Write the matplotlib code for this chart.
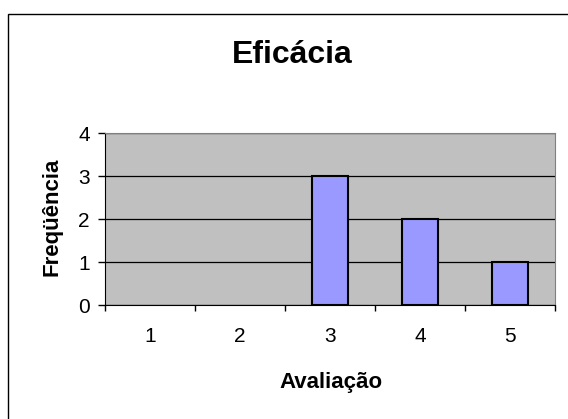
import matplotlib
matplotlib.use("Agg")
import matplotlib.pyplot as plt
from matplotlib.patches import Rectangle

# dados do grafico
avaliacoes = ["1", "2", "3", "4", "5"]
frequencias = [0, 0, 3, 2, 1]
titulo = "Eficácia"
rotulo_x = "Avaliação"
rotulo_y = "Freqüência"

plt.rcParams["font.family"] = ["Liberation Sans", "DejaVu Sans"]

fig = plt.figure(figsize=(5.68, 4.19), dpi=100)
fig.patch.set_facecolor("white")

# moldura externa do grafico
fig.patches.append(Rectangle((8 / 568, -0.05), 1.2, 1 - 14 / 419 + 0.05,
                             transform=fig.transFigure, fill=False,
                             edgecolor="#000000", linewidth=1.0))

ax = fig.add_axes([105 / 568, 1 - 305 / 419, 450 / 568, 172 / 419])
ax.set_facecolor("#C0C0C0")

x = list(range(len(avaliacoes)))
# barras com valor zero ficam sem contorno
bordas = [1.5 if f > 0 else 0 for f in frequencias]
ax.bar(x, frequencias, width=0.4, color="#9999FF", edgecolor="black",
       linewidth=bordas, zorder=3)

ax.set_xlim(-0.5, len(avaliacoes) - 0.5)
ax.set_ylim(0, 4)
ax.set_yticks([0, 1, 2, 3, 4])
ax.yaxis.grid(True, color="black", linewidth=0.9, zorder=1)
ax.set_axisbelow(True)

# ticks do eixo x nas divisoes das categorias
ax.set_xticks([i - 0.5 for i in range(len(avaliacoes) + 1)])
ax.set_xticklabels([])
ax.set_xticks(x, minor=True)
ax.set_xticklabels(avaliacoes, minor=True)
ax.tick_params(axis="x", which="minor", length=0, pad=16, labelsize=15)
ax.tick_params(axis="x", which="major", length=4, direction="out", width=1)
ax.tick_params(axis="y", length=5, direction="out", width=1, labelsize=15, pad=6)

ax.spines["left"].set_color("black")
ax.spines["bottom"].set_color("black")
ax.spines["top"].set_color("#808080")
ax.spines["right"].set_color("#808080")

fig.text(292 / 568, 1 - 63 / 419, titulo, ha="center", va="baseline",
         fontsize=23, fontweight="bold")
fig.text(331 / 568, 1 - 388 / 419, rotulo_x, ha="center", va="baseline",
         fontsize=16, fontweight="bold")
fig.text(57 / 568, 1 - 217 / 419, rotulo_y, ha="center", va="baseline",
         fontsize=16, fontweight="bold", rotation=90, rotation_mode="anchor")

fig.savefig("out.png", dpi=100)
